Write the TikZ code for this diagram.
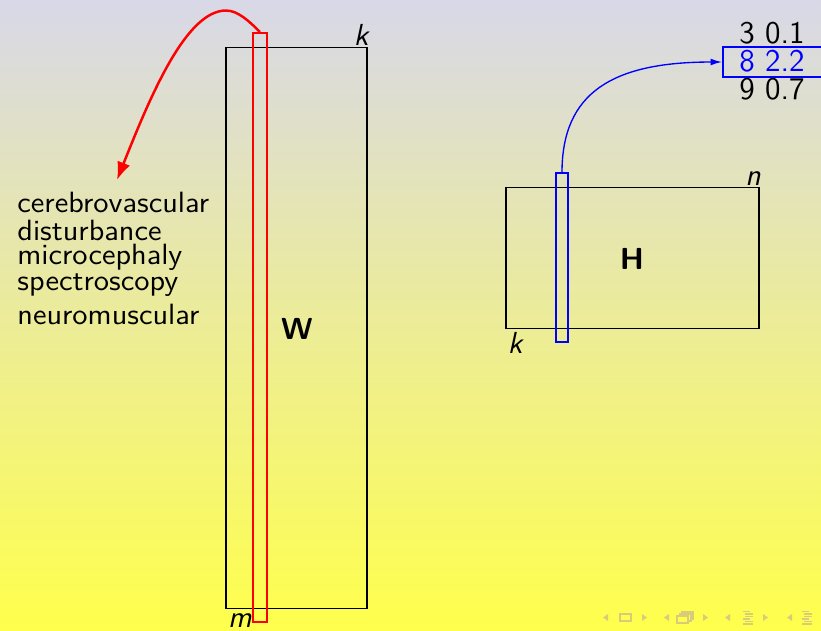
\documentclass[tikz,border=0pt]{standalone}
\usetikzlibrary{arrows.meta,fit}
\definecolor{bgtop}{RGB}{216,216,232}
\definecolor{bgbot}{RGB}{255,255,76}
\definecolor{navc}{RGB}{214,204,122}
\begin{document}
\begin{tikzpicture}[x=0.4436pt,y=-0.4436pt,
  mat/.style={draw=black, line width=0.45pt, inner sep=0pt},
  redcol/.style={draw=red, line width=0.9pt, inner sep=0pt},
  bluecol/.style={draw=blue, line width=0.5pt, inner sep=0pt},
  selbox/.style={draw=blue, line width=0.9pt, inner sep=0pt},
  dimlab/.style={font=\fontsize{13.5}{16}\selectfont\sffamily\itshape, inner sep=0pt, anchor=base},
  wordlab/.style={font=\fontsize{13}{14}\selectfont\sffamily, inner sep=0pt, anchor=base west},
  numlab/.style={font=\fontsize{14}{16}\selectfont\sffamily, inner sep=0pt, anchor=base},
  matlab/.style={font=\fontsize{13.5}{16}\selectfont\sffamily\bfseries, inner sep=0pt},
  navtri/.style={fill=navc},
  navbox/.style={draw=navc, line width=0.6pt}
]
\useasboundingbox (0,0) rectangle (821,630);
\shade[top color=bgtop, bottom color=bgbot] (0,0) rectangle (821,630);

% matrices
\node[mat, fit={(226,47) (367,608)}] (Wbox) {};
\node[redcol, fit={(253,33) (267,622)}] (Wcol) {};
\node[matlab] (Wl) at (297,329) {W};
\node[dimlab] (Wk) at (361,45) {k};
\node[dimlab] (Wm) at (240,627) {m};

\node[mat, fit={(506,187) (759,328)}] (Hbox) {};
\node[bluecol, fit={(556,173) (568,342)}] (Hcol) {};
\node[matlab] (Hl) at (632,259) {H};
\node[dimlab] (Hn) at (753,185) {n};
\node[dimlab] (Hk) at (515,353) {k};

% word list
\node[wordlab] (t1) at (17,212.7) {\scalebox{1.06}[1]{cerebrovascular}};
\node[wordlab] (t2) at (17,240) {\scalebox{1.06}[1]{disturbance}};
\node[wordlab] (t3) at (17,264) {\scalebox{1.06}[1]{microcephaly}};
\node[wordlab] (t4) at (17,290) {\scalebox{1.06}[1]{spectroscopy}};
\node[wordlab] (t5) at (17,324) {\scalebox{1.06}[1]{neuromuscular}};
\coordinate (tipR) at (117,180);

% numbers
\node[numlab] (r1) at (772,43.7) {3 0.1};
\node[numlab, text=blue] (r2) at (772,71.7) {8 2.2};
\node[numlab] (r3) at (772,99.3) {9 0.7};
\node[selbox, fit={(723,47) (828,77)}] (sel) {};

% connectors
\draw[red, line width=1.1pt, -{Latex[length=8pt,width=6pt]}]
  (Wcol.north) .. controls (249.4,21.5) and (238,10.5) .. (226,10.5)
  .. controls (186,10.5) and (150.3,96.3) .. (tipR);
\draw[blue, line width=0.6pt, -{Latex[length=5pt,width=3pt]}]
  (Hcol.north) .. controls (562,93) and (612,62) .. (sel.west);

% navigation symbols
\fill[navtri] (608,614) -- (603,617.5) -- (608,621) -- cycle;
\draw[navbox] (620,614) rectangle (631,621);
\fill[navtri] (642,614) -- (647,617.5) -- (642,621) -- cycle;
\fill[navtri] (669,614) -- (664,617.5) -- (669,621) -- cycle;
\draw[navbox, fill=bgbot] (682,612) rectangle (693,619);
\draw[navbox, fill=bgbot] (680,614) rectangle (691,621);
\draw[navbox, fill=bgbot] (677,616) rectangle (688,623);
\fill[navtri] (703,614) -- (708,617.5) -- (703,621) -- cycle;
\fill[navtri] (730,614) -- (725,617.5) -- (730,621) -- cycle;
\draw[navbox] (743,611.5) -- (750,611.5) (745,614) -- (753,614) (745,616.5) -- (753,616.5) (743,619) -- (750,619) (745,621.5) -- (753,621.5) (743,624) -- (753,624);
\fill[navtri] (763,614) -- (768,617.5) -- (763,621) -- cycle;
\fill[navtri] (792,614) -- (787,617.5) -- (792,621) -- cycle;
\draw[navbox] (802,611.5) -- (809,611.5) (804,614) -- (812,614) (804,616.5) -- (812,616.5) (802,619) -- (809,619) (804,621.5) -- (812,621.5) (802,624) -- (812,624);
\end{tikzpicture}
\end{document}
